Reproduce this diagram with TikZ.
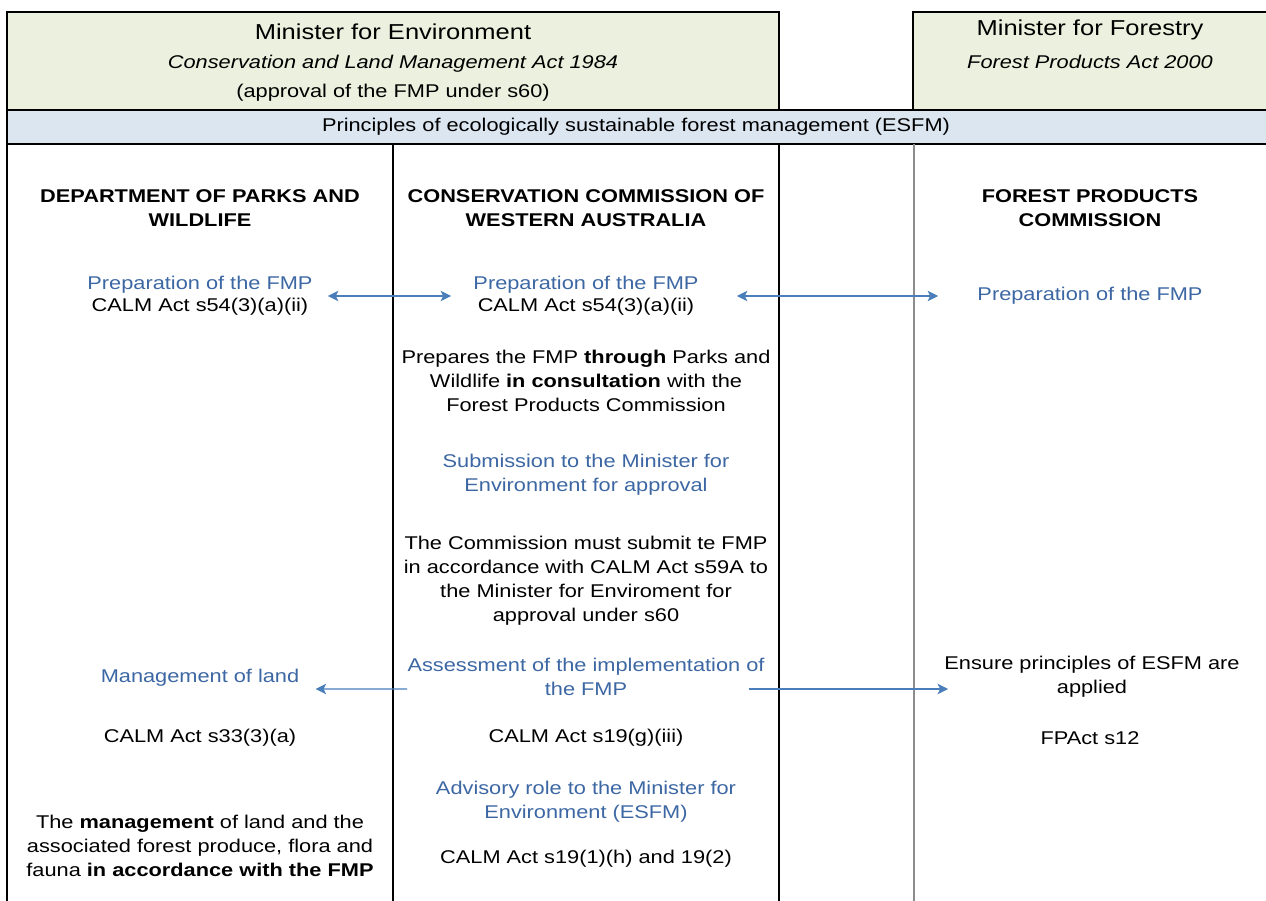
\documentclass[tikz,border=0pt]{standalone}
\usepackage{fontspec}
\setmainfont{Liberation Sans}[FakeStretch=1.18]
\usetikzlibrary{arrows.meta, positioning}
\definecolor{headgreen}{HTML}{EBF1DE}
\definecolor{bandblue}{HTML}{DCE6F1}
\definecolor{stepblue}{HTML}{3C67A3}
\definecolor{linkblue}{HTML}{4A7EBB}
\definecolor{rulegrey}{HTML}{8C8C8C}

\tikzset{
  frame/.style={line width=1.2pt, draw=black},
  greyrule/.style={line width=0.9pt, draw=rulegrey},
  body/.style={font=\fontsize{10.5}{13.6}\selectfont, align=center, inner sep=0pt},
  pair/.style={font=\fontsize{10.5}{12.5}\selectfont, align=center, inner sep=0pt},
  bluetxt/.style={body, text=stepblue},
  colhead/.style={body, font=\fontsize{10.5}{13.6}\selectfont\bfseries},
  minhead/.style={font=\fontsize{12.3}{14}\selectfont, inner sep=0pt},
  linktip/.tip={Stealth[length=6pt, width=6pt, inset=1.5pt]},
  linkarrow/.style={linkblue, line width=0.7pt, -linktip},
}

\begin{document}
\begin{tikzpicture}[x=0.02cm, y=-0.02cm]
  \useasboundingbox (0,0) rectangle (1266,901);

  % Minister boxes
  \fill[headgreen] (7,12) rectangle (779,110);
  \draw[frame] (7,110) -- (7,12) -- (779,12) -- (779,110);
  \fill[headgreen] (913,12) rectangle (1280,110);
  \draw[frame] (913,110) -- (913,12) -- (1280,12);

  \node[minhead] (envT) at (393,32) {Minister for Environment};
  \node[body, font=\fontsize{10.5}{13.6}\selectfont\itshape] (envAct) at (393,64) {Conservation and Land Management Act 1984};
  \node[body] (envNote) at (393,93) {(approval of the FMP under s60)};
  \node[minhead] (forT) at (1090,30) {Minister for Forestry};
  \node[body, font=\fontsize{10.5}{13.6}\selectfont\itshape] (forAct) at (1090,62) {Forest Products Act 2000};

  % ESFM band
  \filldraw[frame, fill=bandblue] (7,110) rectangle (1280,144);
  \node[body] (esfm) at (636,127) {Principles of ecologically sustainable forest management (ESFM)};

  % Column rules
  \draw[frame] (7,144) -- (7,910);
  \draw[frame] (393,144) -- (393,910);
  \draw[frame] (779,144) -- (779,910);
  \draw[greyrule] (914,144) -- (914,910);

  % Column headings
  \node[colhead] (colDPW) at (200,208) {DEPARTMENT OF PARKS AND\\WILDLIFE};
  \node[colhead] (colCC) at (586,208) {CONSERVATION COMMISSION OF\\WESTERN AUSTRALIA};
  \node[colhead] (colFPC) at (1090,208) {FOREST PRODUCTS\\COMMISSION};

  % Preparation of the FMP
  \node[pair] (prepDPW) at (200,296) {\textcolor{stepblue}{Preparation of the FMP}\\CALM Act s54(3)(a)(ii)};
  \node[pair] (prepCC) at (586,296) {\textcolor{stepblue}{Preparation of the FMP}\\CALM Act s54(3)(a)(ii)};
  \node[bluetxt] (prepFPC) at (1090,296) {Preparation of the FMP};

  \draw[linkarrow, linktip-linktip] ([xshift=0.3cm]prepDPW.east) -- ([xshift=-0.44cm]prepCC.west);
  \draw[linkarrow, linktip-linktip] ([xshift=0.76cm]prepCC.east) -- ([xshift=-0.78cm]prepFPC.west);

  % Commission steps
  \node[body] (prepares) at (586,381) {Prepares the FMP \textbf{through} Parks and\\Wildlife \textbf{in consultation} with the\\Forest Products Commission};
  \node[bluetxt] (submit) at (586,475) {Submission to the Minister for\\Environment for approval};
  \node[body] (mustSubmit) at (586,581) {The Commission must submit te FMP\\in accordance with CALM Act s59A to\\the Minister for Enviroment for\\approval under s60};

  % Assessment of the implementation
  \node[bluetxt] (assess) at (586,677) {Assessment of the implementation of\\the FMP};
  \node[bluetxt] (manage) at (200,678) {Management of land};
  \node[body] (ensure) at (1092,677) {Ensure principles of ESFM are\\applied};

  \coordinate (assessL) at ([yshift=-0.24cm]assess.west);
  \coordinate (manageTip) at ([xshift=0.32cm, yshift=-0.22cm]manage.east);
  \coordinate (assessR) at ([xshift=-0.32cm, yshift=-0.24cm]assess.east);
  \coordinate (ensureTip) at ([xshift=0.08cm, yshift=-0.24cm]ensure.west);
  \draw[linkarrow] (assessL) -- (manageTip);
  \draw[linkarrow] (assessR) -- (ensureTip);

  \node[body] (act33) at (200,738) {CALM Act s33(3)(a)};
  \node[body] (act19g) at (586,738) {CALM Act s19(g)(iii)};
  \node[body] (fpact) at (1090,738) {FPAct s12};

  % Advisory role
  \node[bluetxt] (advisory) at (586,802) {Advisory role to the Minister for\\Environment (ESFM)};
  \node[body] (act19h) at (586,859) {CALM Act s19(1)(h) and 19(2)};
  \node[body] (mgmtFMP) at (200,846) {The \textbf{management} of land and the\\associated forest produce, flora and\\fauna \textbf{in accordance with the FMP}};
\end{tikzpicture}
\end{document}
